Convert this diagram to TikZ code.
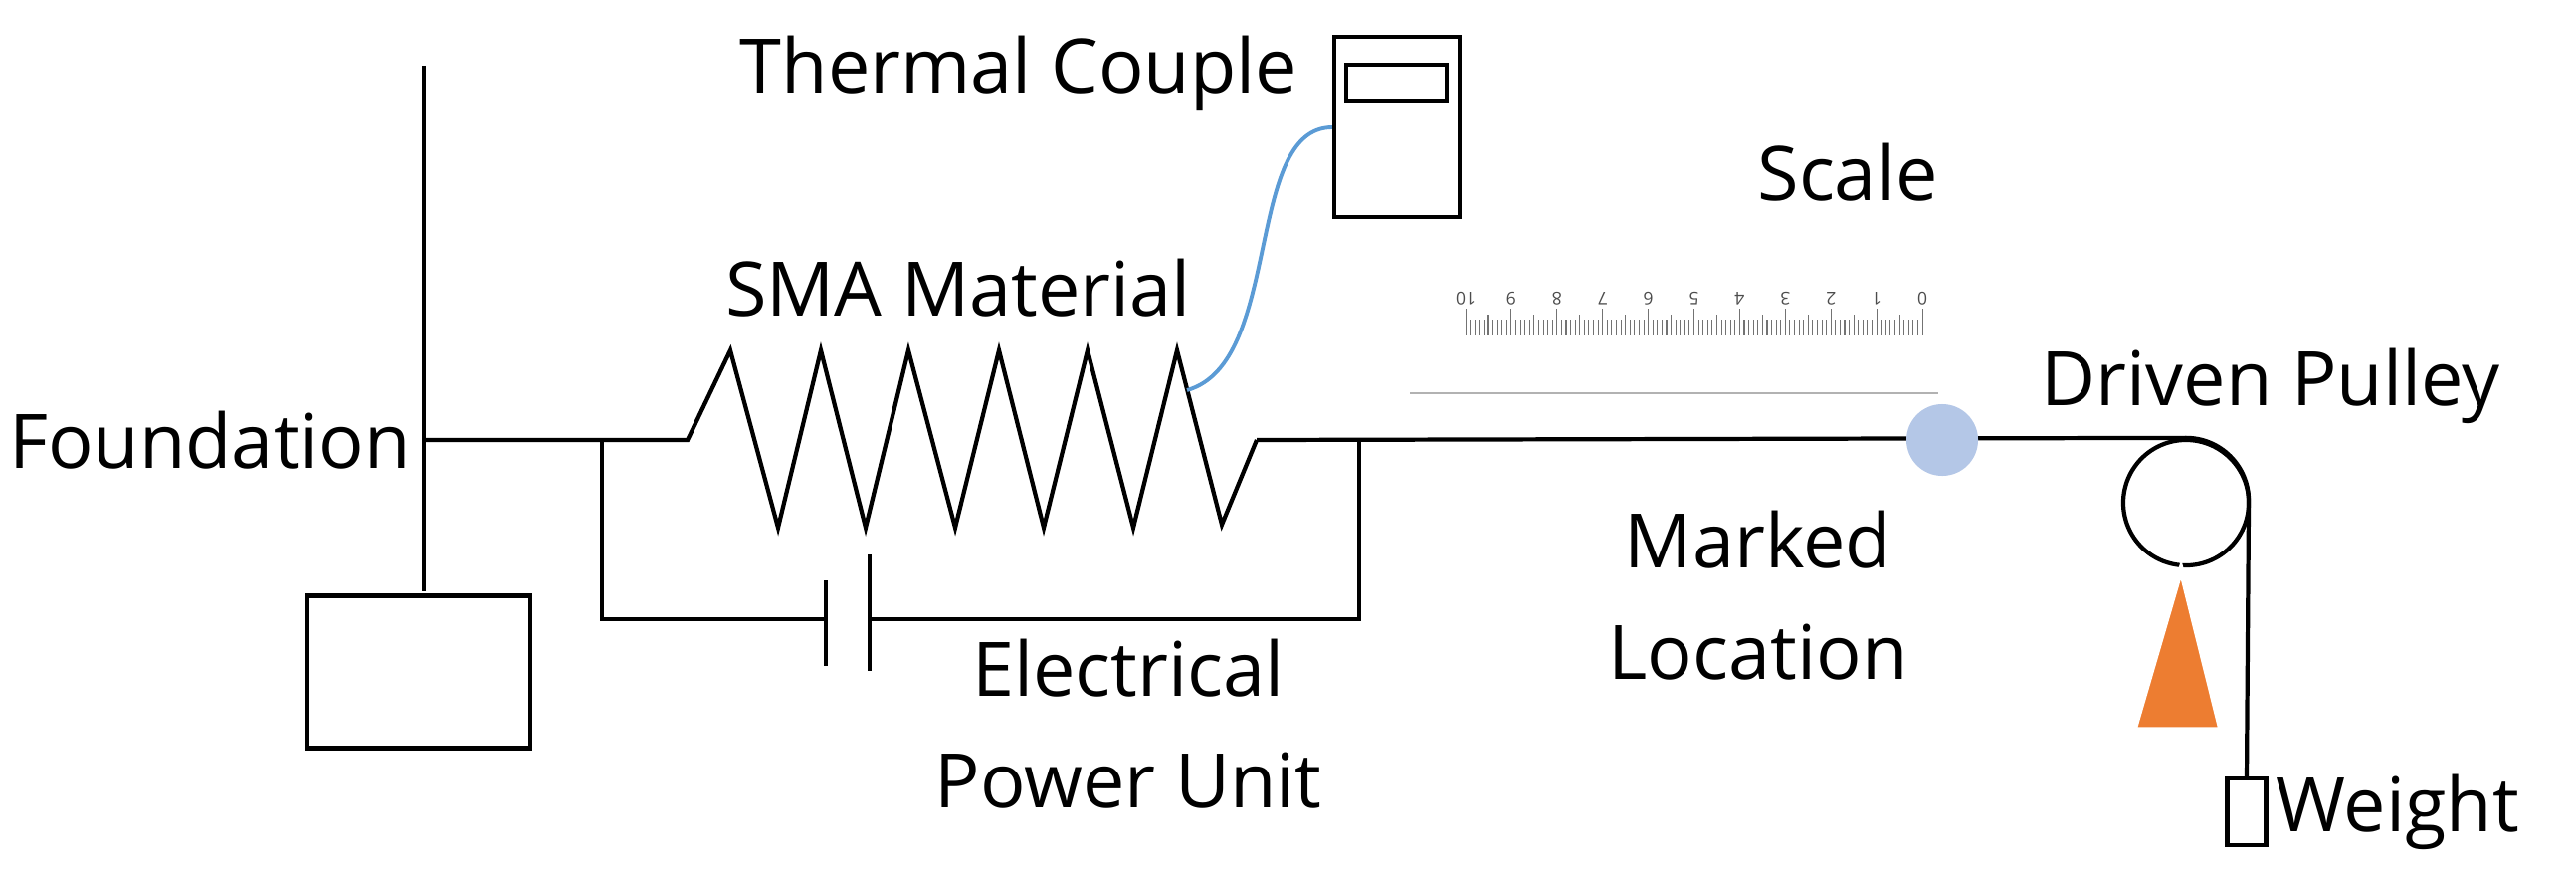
\documentclass[tikz,border=0pt]{standalone}
\usepackage{fontspec}
\setmainfont{Open Sans}
\usetikzlibrary{positioning}
\definecolor{wireblue}{HTML}{5B9BD5}
\definecolor{markblue}{HTML}{B4C7E7}
\definecolor{stand}{HTML}{ED7D31}
\begin{document}
\begin{tikzpicture}[x=0.01cm, y=-0.01cm]
	\tikzset{
		line/.style={draw=black, line width=1.2pt},
		box/.style={rectangle, draw=black, line width=1.2pt, inner sep=0pt},
		lbl/.style={font=\fontsize{21.5}{26}\selectfont, inner sep=0pt, align=center},
		tick/.style={draw=black!55, line width=0.3pt},
	}
	\useasboundingbox (0,0) rectangle (2589,885);

	% foundation
	\coordinate (ftop) at (426,66);
	\coordinate (fbot) at (426,594);
	\coordinate (fmid) at (426,442);
	\node[box, minimum width=2.24cm, minimum height=1.53cm] (base) at (421,675) {};
	\draw[line] (ftop) -- (fbot);
	\node[lbl] (foundation) at (211,442) {Foundation};

	% SMA spring
	\coordinate (sl) at (691,442);
	\coordinate (sr) at (1263,442);
	\coordinate (cl) at (605,442);
	\coordinate (cr) at (1366,442);
	\draw[line] (fmid) -- (sl) -- (734,352) -- (782,530) -- (825,352) -- (870,530)
		-- (913,352) -- (960,530) -- (1004,352) -- (1049,530) -- (1093,352)
		-- (1139,530) -- (1183,352) -- (1228,527) -- (sr);
	\node[lbl] (sma) at (963,289) {SMA Material};

	% power unit
	\coordinate (bl) at (830,622);
	\coordinate (br) at (874,622);
	\draw[line] (cl) -- (605,622) -- (bl);
	\draw[line] (cr) -- (1366,622) -- (br);
	\draw[line] (830,583) -- (830,669);
	\draw[line] (874,557) -- (874,674);
	\node[lbl] (power) at (1134,727) {Electrical\\[6pt]Power Unit};

	% thermal couple
	\node[box, minimum width=1.26cm, minimum height=1.81cm] (meter) at (1404,127.5) {};
	\node[box, minimum width=1.01cm, minimum height=0.36cm] (display) at (1403.5,83) {};
	\node[lbl] (thermal) at (1024,74) {Thermal Couple};
	\coordinate (probe) at (1193,392);
	\draw[wireblue, line width=1.1pt] (probe) .. controls (1290,365) and (1250,128) .. (meter.west |- 0,128);

	% scale
	\node[lbl] (scale) at (1857,173) {Scale};
	\foreach \i in {0,...,100} {
		\pgfmathsetmacro{\xx}{1932-4.59*\i}
		\pgfmathsetmacro{\yy}{ifthenelse(mod(\i,10)==0,310,ifthenelse(mod(\i,5)==0,316,321))}
		\draw[tick] (\xx,\yy) -- (\xx,337);
	}
	\foreach \n in {0,...,10} {
		\node[rotate=180, font=\fontsize{5}{6}\selectfont, text=black!70, inner sep=0pt] (num\n) at (1932-45.9*\n,300) {\n};
	}
	\coordinate (gl) at (1417,395);
	\coordinate (gr) at (1948,395);
	\draw[black!30, line width=0.6pt] (gl) -- (gr);

	% rope, pulley and weight
	\node[circle, draw=black, line width=1.2pt, minimum size=1.26cm, inner sep=0pt] (pulley) at (2197,505) {};
	\node[box, minimum width=0.39cm, minimum height=0.67cm, anchor=north] (weight) at (2258,780) {};
	\draw[line] (sr) -- (pulley.north) arc[start angle=90, end angle=0, radius=0.63cm] -- (weight.north);
	\node[circle, fill=markblue, minimum size=0.72cm, inner sep=0pt] (mark) at (1952,442) {};
	\node[lbl] (marked) at (1767,598) {Marked\\[6pt]Location};
	\fill[stand, draw=white, line width=1.5pt] (2192,572) -- (2232,733) -- (2145,733) -- cycle;
	\node[lbl] (drivenl) at (2282,388) {Driven Pulley};
	\node[lbl, anchor=west] (weightl) at ([xshift=2pt]weight.east) {Weight};
\end{tikzpicture}
\end{document}
